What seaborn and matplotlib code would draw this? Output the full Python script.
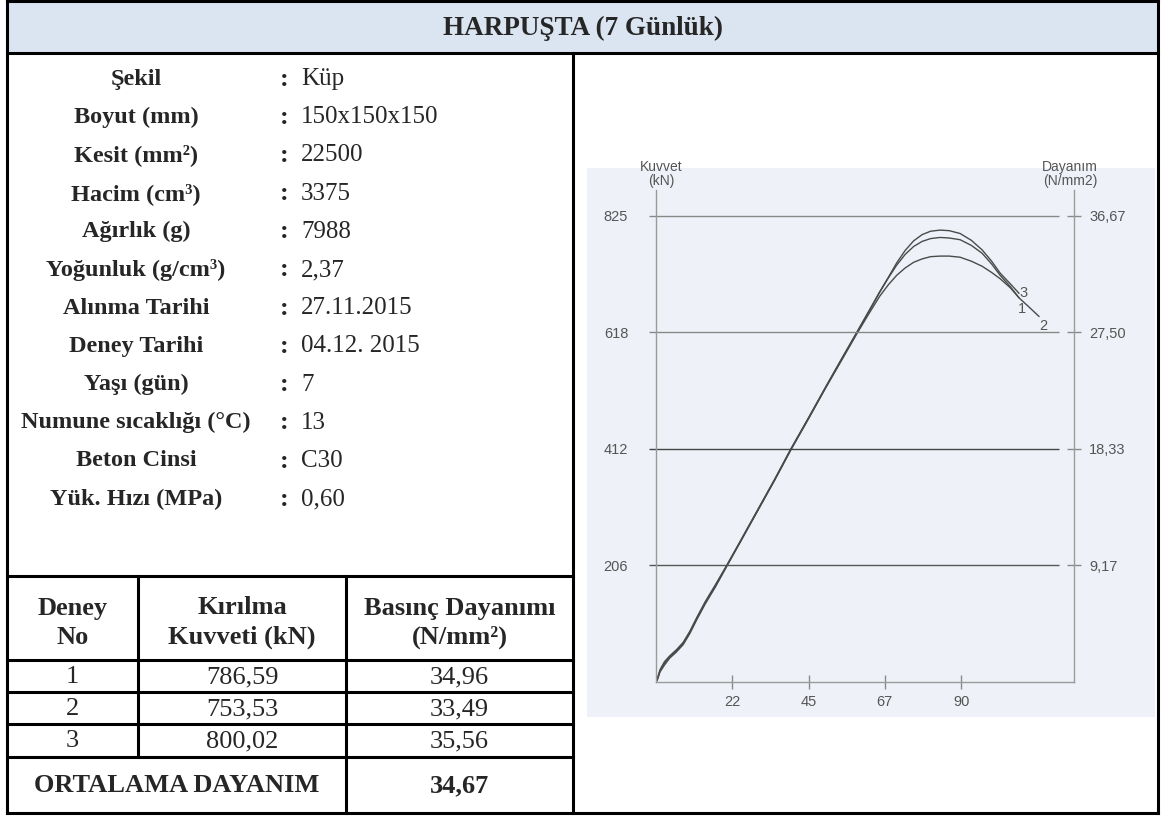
import matplotlib
matplotlib.use("Agg")
import matplotlib.pyplot as plt
from matplotlib.patches import Rectangle
import seaborn as sns
import pandas as pd

sns.set_theme(style="white")
plt.rcParams['font.family'] = ['Liberation Sans', 'DejaVu Sans']

# ---------------- data ----------------
title = "HARPUŞTA (7 Günlük)"
info_labels = ["Şekil", "Boyut (mm)", "Kesit (mm²)", "Hacim (cm³)", "Ağırlık (g)",
               "Yoğunluk (g/cm³)", "Alınma Tarihi", "Deney Tarihi", "Yaşı (gün)",
               "Numune sıcaklığı (°C)", "Beton Cinsi", "Yük. Hızı (MPa)"]
info_values = ["Küp", "150x150x150", "22500", "3375", "7988", "2,37", "27.11.2015",
               "04.12. 2015", "7", "13", "C30", "0,60"]
header_col1 = ["Deney", "No"]
header_col2 = ["Kırılma", "Kuvveti (kN)"]
header_col3 = ["Basınç Dayanımı", "(N/mm²)"]
test_no = ["1", "2", "3"]
break_force = ["786,59", "753,53", "800,02"]
strength = ["34,96", "33,49", "35,56"]
avg_label = "ORTALAMA DAYANIM"
avg_value = "34,67"

kn_ticks = [206.25, 412.5, 618.75, 825]
kn_labels = ["206", "412", "618", "825"]
x_ticks = [22.5, 45, 67.5, 90]
x_labels = ["22", "45", "67", "90"]
area_mm2 = 22500 / 1000.0  # kN -> N/mm2 factor (22.5)

curve1_x = [0.3, 1.2, 2.5, 4.0, 6.0, 8.0, 10.0, 12.0, 14.5, 17.5, 20.9, 25.0, 30.0, 35.0, 39.8,
            45.0, 50.0, 55.0, 59.3, 63.0, 66.0, 68.5, 71.0, 73.5, 76.0, 78.5, 81.0, 83.8, 86.5,
            89.7, 93.0, 96.2, 99.0, 101.5, 104.5, 107.1]
curve1_kn = [3, 20, 33, 44, 55, 68, 88, 112, 140, 170, 206, 250, 304, 358, 412,
             467, 521, 574, 619, 658, 690, 715, 738, 757, 771, 780, 785, 787, 786,
             783, 773, 759, 740, 720, 700, 680]
curve2_x = [0.3, 1.2, 2.5, 4.0, 6.0, 8.0, 10.0, 12.0, 14.5, 17.5, 20.9, 25.0, 30.0, 35.0, 39.8,
            45.0, 50.0, 55.0, 59.3, 63.0, 66.0, 68.5, 71.0, 73.5, 76.0, 78.5, 81.0, 83.8, 86.5,
            89.7, 93.0, 96.2, 99.0, 101.5, 104.5, 107.1, 110.0, 113.0]
curve2_kn = [2, 18, 30, 42, 53, 66, 86, 110, 138, 168, 205, 249, 303, 357, 411,
             466, 520, 572, 617, 654, 683, 703, 720, 733, 743, 749, 753, 754, 754,
             752, 745, 736, 725, 714, 698, 680, 664, 647]
curve3_x = [0.3, 1.2, 2.5, 4.0, 6.0, 8.0, 10.0, 12.0, 14.5, 17.5, 20.9, 25.0, 30.0, 35.0, 39.8,
            45.0, 50.0, 55.0, 59.3, 63.0, 66.0, 68.5, 71.0, 73.5, 76.0, 78.5, 81.0, 83.8, 86.5,
            89.7, 93.0, 96.2, 99.0, 101.5, 104.5, 107.1]
curve3_kn = [4, 22, 36, 46, 57, 70, 90, 114, 142, 172, 207, 251, 305, 359, 413,
             468, 522, 575, 620, 659, 691, 716, 742, 764, 781, 792, 798, 800, 799,
             794, 782, 765, 745, 724, 705, 688]

df = pd.concat([
    pd.DataFrame({"x": curve1_x, "kN": curve1_kn, "deney": "1"}),
    pd.DataFrame({"x": curve2_x, "kN": curve2_kn, "deney": "2"}),
    pd.DataFrame({"x": curve3_x, "kN": curve3_kn, "deney": "3"}),
], ignore_index=True)

# ---------------- layout ----------------
W, H = 1161, 816
fig = plt.figure(figsize=(W / 100, H / 100), dpi=100)
fig.patch.set_facecolor("white")

bg = fig.add_axes([0, 0, 1, 1])
bg.set_xlim(0, W)
bg.set_ylim(H, 0)
bg.axis("off")

serif = ['Liberation Serif', 'DejaVu Serif']
FS = 19
FS_LAB = 17.5
FS_VAL = 18
LW = 2.2

# title bar
bg.add_patch(Rectangle((7, 1), 1151, 52, facecolor="#dbe5f1", edgecolor="none"))
bg.text(583, 28, title, ha="center", va="center", fontsize=19.5, fontweight="bold", family=serif)

# chart photo background
bg.add_patch(Rectangle((587, 168), 568, 549, facecolor="#eef2f8", edgecolor="none"))

def hline(y, x0, x1):
    bg.plot([x0, x1], [y, y], color="black", lw=LW, solid_capstyle="projecting")

def vline(x, y0, y1):
    bg.plot([x, x], [y0, y1], color="black", lw=LW, solid_capstyle="projecting")

hline(1, 7, 1158)
hline(53, 7, 1158)
hline(813, 7, 1158)
vline(7, 1, 813)
vline(1158, 1, 813)
vline(573, 53, 813)
hline(576, 7, 573)
hline(660, 7, 573)
hline(692, 7, 573)
hline(724, 7, 573)
hline(757, 7, 573)
vline(138, 576, 757)
vline(346, 576, 813)

# info rows
for i, (lab, val) in enumerate(zip(info_labels, info_values)):
    y = 79 + 38.2 * i
    bg.text(136, y, lab, ha="center", va="center", fontsize=FS_LAB, fontweight="bold", family=serif)
    bg.text(284, y, ":", ha="center", va="center", fontsize=FS, fontweight="bold", family=serif)
    bg.text(301, y, val, ha="left", va="center", fontsize=FS_VAL, family=serif)

# table header
col_x = [72.5, 242, 459.5]
for cx, lines in zip(col_x, [header_col1, header_col2, header_col3]):
    for j, t in enumerate(lines):
        bg.text(cx, 608 + 29 * j, t, ha="center", va="center", fontsize=FS,
                fontweight="bold", family=serif)

for i in range(3):
    y = 677 + 32 * i
    bg.text(col_x[0], y, test_no[i], ha="center", va="center", fontsize=FS, family=serif)
    bg.text(col_x[1], y, break_force[i], ha="center", va="center", fontsize=FS, family=serif)
    bg.text(col_x[2], y, strength[i], ha="center", va="center", fontsize=FS, family=serif)

bg.text(176.5, 786, avg_label, ha="center", va="center", fontsize=FS, fontweight="bold", family=serif)
bg.text(col_x[2], 786, avg_value, ha="center", va="center", fontsize=FS, fontweight="bold", family=serif)

# ---------------- chart ----------------
ax = fig.add_axes([656 / W, 1 - 682 / H, (1074 - 656) / W, (682 - 190) / H])
ax.set_facecolor("none")

sns.lineplot(data=df, x="x", y="kN", hue="deney", units="deney", estimator=None,
             palette=["#4a4a4a", "#4a4a4a", "#4a4a4a"], linewidth=1.0, sort=False,
             legend=False, ax=ax)

ax.set_xlim(0, 123.3)
ax.set_ylim(0, 871)
ax.set_xlabel("")
ax.set_ylabel("")

grid_colors = ["#555555", "#444444", "#888888", "#888888"]
for yv, c in zip(kn_ticks, grid_colors):
    ax.hlines(yv, -0.017, 0.964, transform=ax.get_yaxis_transform(), colors=c,
              lw=1.0, clip_on=False)

ax.set_yticks(kn_ticks)
ax.set_yticklabels(kn_labels)
ax.tick_params(axis="y", length=0, pad=20, labelsize=10.5, labelcolor="#555555")
ax.set_xticks(x_ticks)
ax.set_xticklabels(x_labels)
ax.tick_params(axis="x", direction="inout", length=10, width=1, color="#8a8a8a",
               pad=4, labelsize=10.5, labelcolor="#555555", bottom=True)

for side in ["left", "bottom", "right"]:
    ax.spines[side].set_color("#9a9a9a")
    ax.spines[side].set_linewidth(1.0)
ax.spines["top"].set_visible(False)

sec = ax.secondary_yaxis("right", functions=(lambda v: v / area_mm2, lambda v: v * area_mm2))
sec.set_yticks([v / area_mm2 for v in kn_ticks])
sec.set_yticklabels([f"{v / area_mm2:.2f}".replace(".", ",") for v in kn_ticks])
sec.tick_params(axis="y", direction="inout", length=10, width=1, color="#8a8a8a",
                pad=6, labelsize=10.5, labelcolor="#555555")
sec.spines["right"].set_visible(False)

# axis titles
bg.text(661, 174, "Kuvvet\n(kN)", ha="center", va="center", fontsize=10, color="#555555",
        linespacing=1.05)
bg.text(1070, 174, "Dayanım\n(N/mm2)", ha="center", va="center", fontsize=10, color="#555555",
        linespacing=1.05)

# curve end labels
ax.annotate("3", xy=(curve3_x[-1], curve3_kn[-1]), xytext=(0, 0), textcoords="offset points",
            ha="left", va="center", fontsize=10.5, color="#555555")
ax.annotate("1", xy=(curve1_x[-1], curve1_kn[-1]), xytext=(-1, -8), textcoords="offset points",
            ha="left", va="center", fontsize=10.5, color="#555555")
ax.annotate("2", xy=(curve2_x[-1], curve2_kn[-1]), xytext=(0, -7), textcoords="offset points",
            ha="left", va="center", fontsize=10.5, color="#555555")

fig.savefig("out.png", dpi=100)
